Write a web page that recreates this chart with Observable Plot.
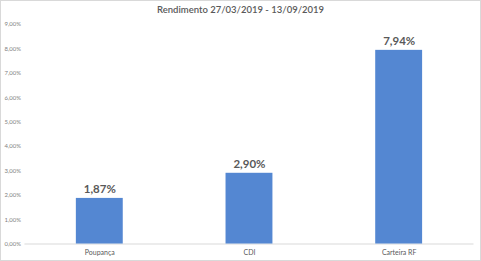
<!DOCTYPE html>
<html>
<head>
<meta charset="utf-8">
<script src="https://cdn.jsdelivr.net/npm/d3@7"></script>
<script src="https://cdn.jsdelivr.net/npm/@observablehq/plot@0.6"></script>
<style>
  html, body { margin: 0; padding: 0; background: #fff; }
  #chart { position: relative; width: 481px; height: 261px; box-sizing: border-box; border: 1px solid #d9d9d9; overflow: hidden; font-family: Lato, "Open Sans", sans-serif; }
  #title { position: absolute; left: 0; top: 3px; width: 100%; text-align: center; font-size: 9.5px; color: #595959; font-weight: 600; }
  #plot { position: absolute; left: -1px; top: 19px; }
</style>
</head>
<body>
<div id="chart">
  <div id="title">Rendimento 27/03/2019 - 13/09/2019</div>
  <div id="plot"></div>
</div>
<script>
const categories = ["Poupança", "CDI", "Carteira RF"];
const values = [1.87, 2.90, 7.94];
const yTicks = [0, 1, 2, 3, 4, 5, 6, 7, 8, 9];

const data = categories.map((c, i) => ({category: c, value: values[i]}));
const fmt = v => v.toFixed(2).replace(".", ",") + "%";

const chart = Plot.plot({
  width: 481,
  height: 241,
  marginLeft: 24.5,
  marginRight: 6.5,
  marginTop: 4,
  marginBottom: 17,
  style: {fontFamily: "Lato, 'Open Sans', sans-serif", background: "transparent"},
  x: {domain: categories, paddingInner: 0.687, paddingOuter: 0.3435, label: null},
  y: {domain: [0, 9], label: null},
  marks: [
    Plot.ruleY([0], {stroke: "#d9d9d9", strokeWidth: 1}),
    Plot.barY(data, {x: "category", y: "value", fill: "#5487d2"}),
    Plot.text(data, {x: "category", y: "value", text: d => fmt(d.value), dy: -9, fontSize: 11.5, fontWeight: "bold", fill: "#595959"}),
    Plot.axisY(yTicks, {tickSize: 0, tickPadding: 4, fontSize: 6, fill: "#7f7f7f", tickFormat: fmt}),
    Plot.axisX(categories, {tickSize: 0, tickPadding: 6, fontSize: 7, fill: "#595959"})
  ]
});
document.getElementById("plot").appendChild(chart);
</script>
</body>
</html>
